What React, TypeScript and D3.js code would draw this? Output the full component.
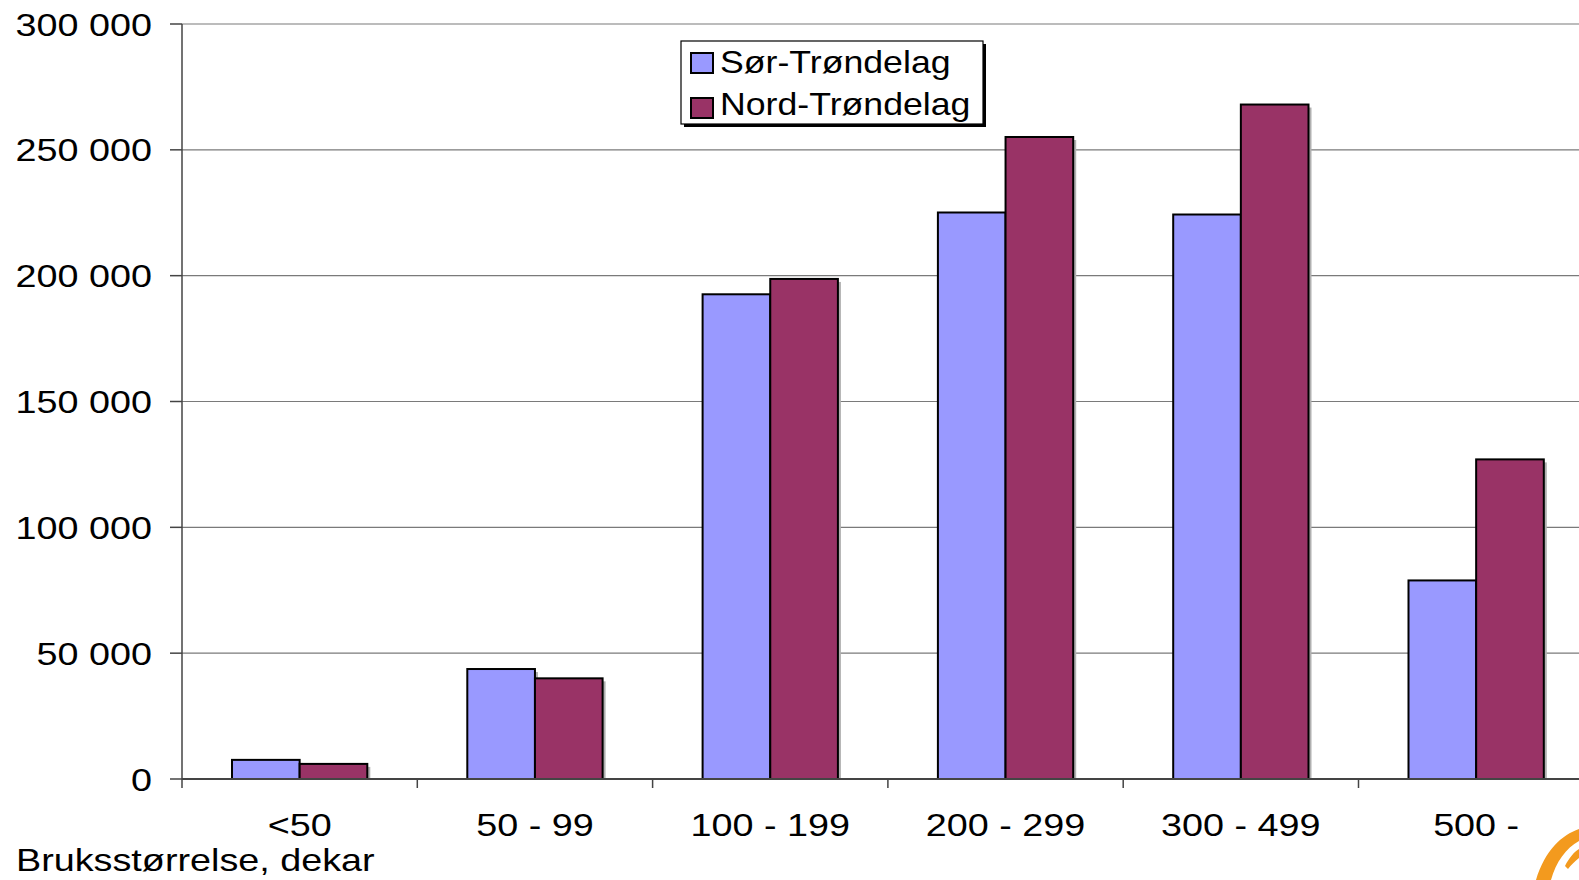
import React from "react";
import * as d3 from "d3";

const categories = ["<50", "50 - 99", "100 - 199", "200 - 299", "300 - 499", "500 -"];
const sorTrondelag = [7600, 43700, 192600, 225100, 224300, 78900];
const nordTrondelag = [6000, 40000, 198700, 255100, 268000, 127000];
const seriesNames = ["Sør-Trøndelag", "Nord-Trøndelag"];
const yTicks = [0, 50000, 100000, 150000, 200000, 250000, 300000];
const xTitle = "Bruksstørrelse, dekar";

const W = 1579;
const H = 880;
const colors = ["#9999FF", "#993366"];
const font = "'Liberation Sans', Arial, sans-serif";

function T(props: { x: number; y: number; anchor?: string; sx?: number; size?: number; children: React.ReactNode }) {
  const { x, y, anchor = "start", sx = 1.18, size = 32, children } = props;
  return (
    <text
      transform={`translate(${x},${y}) scale(${sx},1)`}
      textAnchor={anchor}
      fontSize={size}
      fill="#000"
    >
      {children}
    </text>
  );
}

export default function App() {
  const left = 182;
  const bandW = 235.3;
  const x = d3
    .scaleBand<string>()
    .domain(categories)
    .range([left, left + bandW * categories.length])
    .paddingInner(0)
    .paddingOuter(0);
  const y = d3.scaleLinear().domain([0, 300000]).range([779, 24]);
  const inner = d3.scaleBand<number>().domain([0, 1]).range([50, bandW - 50]).padding(0);
  const fmt = (v: number) => d3.format(",")(v).replace(/,/g, " ");
  const series = [sorTrondelag, nordTrondelag];

  return (
    <svg
      width={W}
      height={H}
      style={{ position: "absolute", left: 0, top: 0, background: "#fff" }}
      fontFamily={font}
    >
      <rect x={0} y={0} width={W} height={H} fill="#fff" />
      {yTicks.map((t) => (
        <g key={t}>
          {t > 0 && (
            <line x1={left} x2={W} y1={y(t)} y2={y(t)} stroke="#7a7a7a" strokeWidth={1.2} />
          )}
          <line x1={170} x2={left} y1={y(t)} y2={y(t)} stroke="#444" strokeWidth={1.5} />
          <T x={152} y={y(t) + 11.5} anchor="end">
            {fmt(t)}
          </T>
        </g>
      ))}
      {categories.map((c, i) => (
        <g key={c}>
          {series.map((s, k) => {
            const bx = (x(c) as number) + (inner(k) as number);
            const by = y(s[i]);
            const bw = inner.bandwidth();
            const bh = y(0) - by;
            return (
              <g key={k}>
                <rect x={bx + 3} y={by + 3} width={bw} height={Math.max(0, bh - 3)} fill="#b0b0b0" />
                <rect x={bx} y={by} width={bw} height={bh} fill={colors[k]} stroke="#000" strokeWidth={2} />
              </g>
            );
          })}
        </g>
      ))}
      <line x1={left} x2={left} y1={24} y2={788} stroke="#444" strokeWidth={1.5} />
      <line x1={left} x2={W} y1={y(0)} y2={y(0)} stroke="#444" strokeWidth={2} />
      {categories.map((c) => (
        <line
          key={"t" + c}
          x1={(x(c) as number) + bandW}
          x2={(x(c) as number) + bandW}
          y1={y(0)}
          y2={788}
          stroke="#444"
          strokeWidth={1.5}
        />
      ))}
      {categories.map((c) => (
        <T key={"l" + c} x={(x(c) as number) + bandW / 2} y={836} anchor="middle">
          {c}
        </T>
      ))}
      <T x={16} y={871}>
        {xTitle}
      </T>
      <rect x={684} y={44} width={302} height={83} fill="#000" />
      <rect x={681} y={41} width={302} height={83} fill="#fff" stroke="#000" strokeWidth={1.2} />
      {seriesNames.map((n, k) => (
        <g key={n}>
          <rect x={691} y={53 + k * 45} width={22} height={20} fill={colors[k]} stroke="#000" strokeWidth={2} />
          <T x={720} y={73 + k * 42} sx={1.115}>
            {n}
          </T>
        </g>
      ))}
      <path
        d="M1536,880 C1545,850 1562,835 1579,829 L1579,841 C1566,848 1556,862 1551,880 Z"
        fill="#F39A1E"
      />
      <path d="M1565,866 C1569,858 1574,852 1579,849 L1579,858 C1575,861 1571,865 1568,869 Z" fill="#F39A1E" />
    </svg>
  );
}
